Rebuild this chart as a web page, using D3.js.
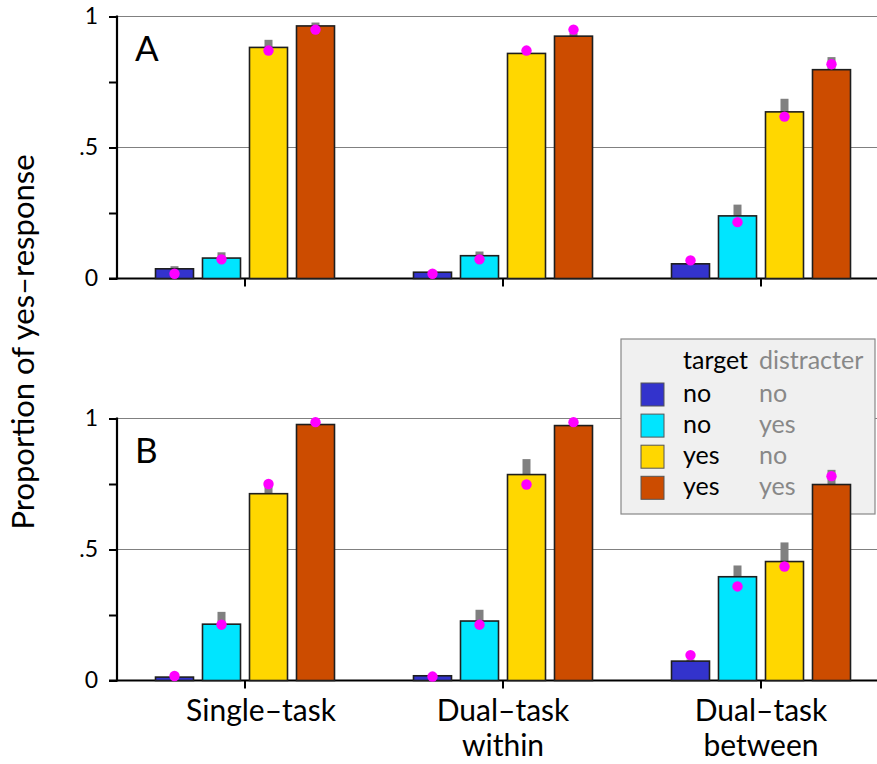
<!DOCTYPE html>
<html>
<head>
<meta charset="utf-8">
<script src="https://cdn.jsdelivr.net/npm/d3@7/dist/d3.min.js"></script>
<style>
  html, body { margin: 0; padding: 0; background: #fff; }
  svg { display: block; font-family: Lato, "Open Sans", sans-serif; }
</style>
</head>
<body>
<svg id="chart" width="877" height="764"></svg>
<script>
// ---------- data ----------
const conditions = ["Single–task", "Dual–task within", "Dual–task between"];
const conditionLines = [["Single–task"], ["Dual–task", "within"], ["Dual–task", "between"]];
const series = ["no-no", "no-yes", "yes-no", "yes-yes"];
const seriesTarget = ["no", "no", "yes", "yes"];
const seriesDistracter = ["no", "yes", "no", "yes"];
const seriesColors = ["#3333cc", "#00e5ff", "#ffd700", "#cc4c00"];
const panels = ["A", "B"];

// observed proportions (bars), rows = conditions, columns = series
const obsA = [
  [0.037, 0.078, 0.882, 0.964],
  [0.024, 0.087, 0.859, 0.925],
  [0.056, 0.239, 0.636, 0.797]
];
const seA = [
  [0.010, 0.022, 0.029, 0.013],
  [0.006, 0.016, 0.013, 0.012],
  [0.009, 0.043, 0.050, 0.048]
];
const predA = [
  [0.018, 0.073, 0.870, 0.950],
  [0.018, 0.073, 0.870, 0.950],
  [0.069, 0.215, 0.618, 0.818]
];
const obsB = [
  [0.013, 0.215, 0.713, 0.977],
  [0.018, 0.227, 0.786, 0.973],
  [0.074, 0.396, 0.454, 0.748]
];
const seB = [
  [0.003, 0.047, 0.032, 0.008],
  [0.004, 0.043, 0.059, 0.007],
  [0.006, 0.043, 0.073, 0.056]
];
const predB = [
  [0.017, 0.213, 0.750, 0.986],
  [0.015, 0.213, 0.748, 0.986],
  [0.097, 0.359, 0.435, 0.780]
];
const yTickValues = [0, 0.25, 0.5, 0.75, 1];
const yTickLabels = {0: "0", 0.5: ".5", 1: "1"};
const yLabel = "Proportion of yes–response";
const legendHeader = ["target", "distracter"];

// ---------- layout ----------
const svg = d3.select("#chart");
const axisX = 117;
const panelGeom = [
  {top: 16.5, bottom: 278.5, obs: obsA, se: seA, pred: predA},
  {top: 418.5, bottom: 680.5, obs: obsB, se: seB, pred: predB}
];

const x = d3.scaleBand().domain(conditions).range([116, 890]).padding(0);
const xSub = d3.scaleBand().domain(series).range([0, 188])
  .paddingInner(9 / 47).paddingOuter(4.5 / 47);

const gridLayer = svg.append("g");
const axisLayer = svg.append("g");
const legendLayer = svg.append("g");
const markLayer = svg.append("g");

panelGeom.forEach((p, pi) => {
  const y = d3.scaleLinear().domain([0, 1]).range([p.bottom, p.top]);

  // gridlines
  gridLayer.selectAll(null).data([0.5, 1]).enter().append("line")
    .attr("x1", axisX).attr("x2", 877)
    .attr("y1", d => y(d)).attr("y2", d => y(d))
    .attr("stroke", "#808080").attr("stroke-width", 1.2);

  // y axis
  const yAxis = d3.axisLeft(y).tickValues(yTickValues).tickSize(8).tickPadding(11)
    .tickFormat(d => yTickLabels[d] !== undefined ? yTickLabels[d] : "");
  const gy = axisLayer.append("g").attr("transform", `translate(${axisX},0)`).call(yAxis);
  gy.select(".domain").remove();
  gy.append("line").attr("x1", 0).attr("x2", 0).attr("y1", p.top - 1).attr("y2", p.bottom + 1)
    .attr("stroke", "#000").attr("stroke-width", 2.2);
  gy.selectAll(".tick line").attr("stroke", "#000").attr("stroke-width", 2);
  gy.selectAll(".tick text").attr("font-size", 23).attr("fill", "#000")
    .attr("font-family", "Lato, sans-serif");

  // x axis
  const xAxis = d3.axisBottom(x).tickSize(8).tickFormat("");
  const gx = axisLayer.append("g").attr("transform", `translate(0,${p.bottom})`).call(xAxis);
  gx.select(".domain").remove();
  gx.append("line").attr("x1", axisX - 8).attr("x2", 877).attr("y1", 0).attr("y2", 0)
    .attr("stroke", "#000").attr("stroke-width", 2.2);
  gx.selectAll(".tick line").attr("stroke", "#000").attr("stroke-width", 2);

  // panel letter
  axisLayer.append("text").attr("x", 135).attr("y", p.top + 44.5)
    .attr("font-size", 35).attr("fill", "#000").text(panels[pi]);

  // marks
  conditions.forEach((c, ci) => {
    const g = markLayer.append("g")
      .attr("transform", `translate(${x(c) + x.bandwidth() / 2 - 94},0)`);
    const rows = series.map((s, si) => ({
      s, si, v: p.obs[ci][si], e: p.se[ci][si], m: p.pred[ci][si]
    }));
    // error bars (drawn under the bars)
    g.selectAll("rect.err").data(rows).enter().append("rect")
      .attr("class", "err")
      .attr("x", d => xSub(d.s) + xSub.bandwidth() / 2 - 4)
      .attr("width", 8)
      .attr("y", d => y(d.v + d.e))
      .attr("height", d => y(d.v - d.e) - y(d.v + d.e))
      .attr("fill", "#808080");
    // bars
    g.selectAll("rect.bar").data(rows).enter().append("rect")
      .attr("class", "bar")
      .attr("x", d => xSub(d.s))
      .attr("width", xSub.bandwidth())
      .attr("y", d => y(d.v))
      .attr("height", d => y(0) - y(d.v))
      .attr("fill", d => seriesColors[d.si])
      .attr("stroke", "#1e1e1e").attr("stroke-width", 1.6);
    // predictions
    g.selectAll("circle").data(rows).enter().append("circle")
      .attr("cx", d => xSub(d.s) + xSub.bandwidth() / 2)
      .attr("cy", d => y(d.m))
      .attr("r", 5.2)
      .attr("fill", "#ff00ff");
  });
});

// x category labels (below bottom panel)
const labelBase = panelGeom[1].bottom + 40.5;
conditions.forEach((c, ci) => {
  const lines = conditionLines[ci];
  const cx = x(c) + x.bandwidth() / 2 + (lines.length === 1 ? 16 : 0);
  const t = svg.append("text").attr("text-anchor", "middle").attr("font-size", 30).attr("fill", "#000");
  lines.forEach((ln, li) => {
    t.append("tspan").attr("x", cx).attr("y", labelBase + li * 35).text(ln);
  });
});

// y label
svg.append("text")
  .attr("transform", `translate(34,342) rotate(-90)`)
  .attr("text-anchor", "middle").attr("font-size", 31).attr("fill", "#000")
  .text(yLabel);

// legend
const lg = legendLayer.append("g");
lg.append("rect").attr("x", 621).attr("y", 339).attr("width", 254).attr("height", 175)
  .attr("fill", "#f0f0f0").attr("stroke", "#888").attr("stroke-width", 1.2);
lg.append("text").attr("x", 683).attr("y", 369).attr("font-size", 25).attr("fill", "#000").text(legendHeader[0]);
lg.append("text").attr("x", 759).attr("y", 369).attr("font-size", 25).attr("fill", "#888").text(legendHeader[1]);
series.forEach((s, i) => {
  const cy = 394.5 + i * 31.1;
  lg.append("rect").attr("x", 641).attr("y", cy - 11.5).attr("width", 23).attr("height", 23)
    .attr("fill", seriesColors[i]).attr("stroke", "#555").attr("stroke-width", 1);
  lg.append("text").attr("x", 683).attr("y", cy + 7.5).attr("font-size", 25).attr("fill", "#000").text(seriesTarget[i]);
  lg.append("text").attr("x", 759).attr("y", cy + 7.5).attr("font-size", 25).attr("fill", "#888").text(seriesDistracter[i]);
});
</script>
</body>
</html>
